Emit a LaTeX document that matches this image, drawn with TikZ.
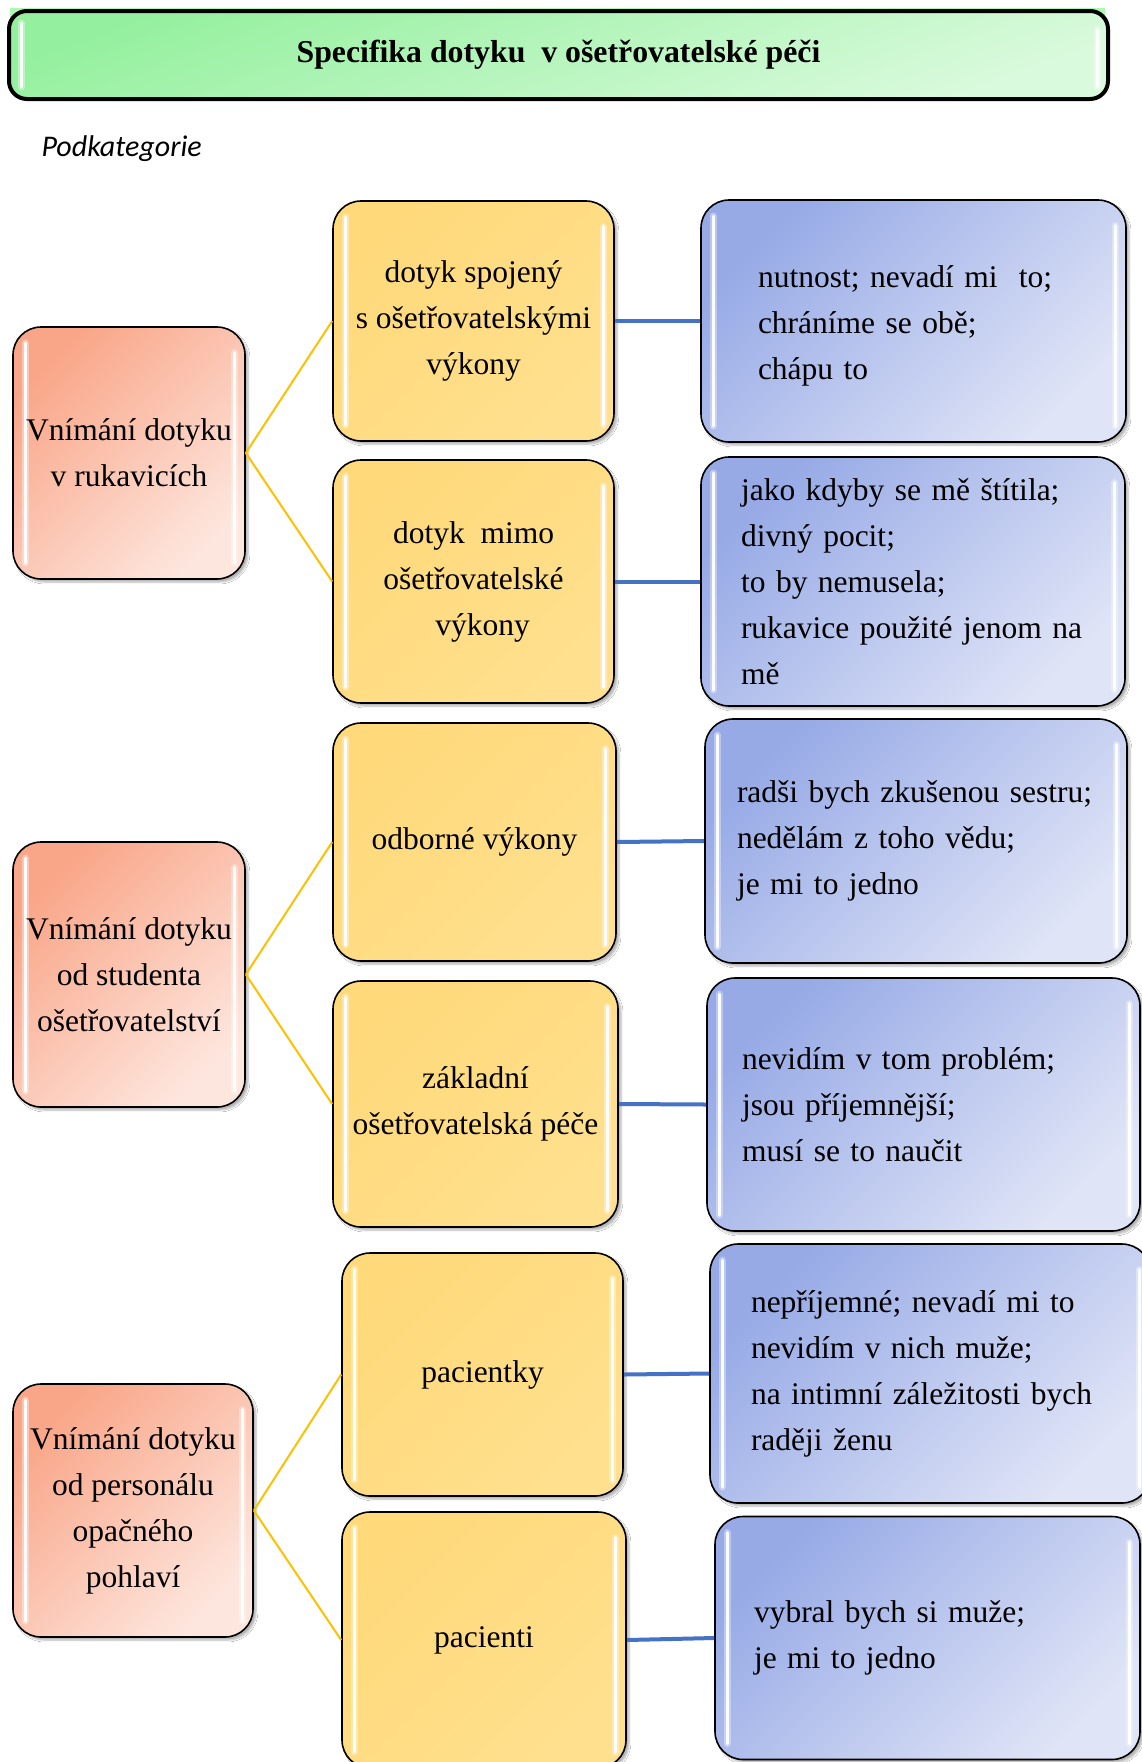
\documentclass[tikz,border=0pt]{standalone}
\usepackage{fontspec}
\setmainfont{Liberation Serif}
\newfontfamily\calibrifont{Carlito}
\usetikzlibrary{shadows.blur}

\definecolor{salmonA}{HTML}{F9A688}
\definecolor{salmonB}{HTML}{FDE6DE}
\definecolor{blueA}{HTML}{97AAE6}
\definecolor{blueB}{HTML}{DFE4F6}
\definecolor{yelA}{HTML}{FFD97A}
\definecolor{yelB}{HTML}{FFE08E}
\definecolor{greenA}{HTML}{94F09E}
\definecolor{greenB}{HTML}{DAFADD}
\definecolor{ylink}{HTML}{FFC000}
\definecolor{blink}{HTML}{4472C4}

\tikzset{
  gloss/.style={path picture={
    \draw[white, line width=7pt, opacity=0.35, line cap=round]
      ([xshift=12pt,yshift=-#1]path picture bounding box.north west) --
      ([xshift=12pt,yshift=#1]path picture bounding box.south west);
    \draw[white, line width=3pt, opacity=0.95, line cap=round]
      ([xshift=12pt,yshift=-#1]path picture bounding box.north west) --
      ([xshift=12pt,yshift=#1]path picture bounding box.south west);
    \draw[white, line width=7pt, opacity=0.35, line cap=round]
      ([xshift=-11pt,yshift=-1.6*#1]path picture bounding box.north east) --
      ([xshift=-11pt,yshift=#1]path picture bounding box.south east);
    \draw[white, line width=3pt, opacity=0.95, line cap=round]
      ([xshift=-11pt,yshift=-1.6*#1]path picture bounding box.north east) --
      ([xshift=-11pt,yshift=#1]path picture bounding box.south east);
  }},
  gloss/.default=16pt,
  box/.style={draw=black, line width=1.6pt, rounded corners=28pt, inner sep=0pt,
    blur shadow={shadow xshift=3pt, shadow yshift=-3pt, shadow blur steps=6, shadow opacity=30},
    font=\fontsize{31.5}{46}\selectfont},
  catbox/.style={box, gloss, top color=salmonA, bottom color=salmonB, shading angle=45, align=center},
  subbox/.style={box, gloss, top color=yelA, bottom color=yelB, shading angle=45, align=center},
  quotebox/.style={box, gloss, top color=blueA, bottom color=blueB, shading angle=45, align=left},
  titlebox/.style={draw=black, line width=4pt, rounded corners=18pt, inner sep=0pt,
    gloss=12pt, top color=greenA, bottom color=greenB, shading angle=20,
    font=\fontsize{31.8}{40}\selectfont\bfseries},
  ylinkline/.style={draw=ylink, line width=2pt},
  blinkline/.style={draw=blink, line width=4pt}
}

\begin{document}
\begin{tikzpicture}[x=1pt, y=-1pt]
\useasboundingbox (0,0) rectangle (1142,1762);
\fill[white] (0,0) rectangle (1142,1762);

% title
\fill[greenA!80!green!60] (10,8) rectangle (1105,20);
\node[titlebox, minimum width=1099pt, minimum height=88pt] (title) at (558.5,55)
  {Specifika dotyku~ v ošetřovatelské péči};

\node[anchor=west, font=\calibrifont\itshape\fontsize{30}{34}\selectfont] (podk) at (38,149) {Podkategorie};

% categories
\node[catbox, minimum width=232pt, minimum height=252pt] (L1) at (129,453)
  {Vnímání dotyku\\v rukavicích};
\node[catbox, minimum width=232pt, minimum height=265pt] (L2) at (129,974.5)
  {Vnímání dotyku\\od studenta\\ošetřovatelství};
\node[catbox, minimum width=240pt, minimum height=253pt] (L3) at (133,1510.5)
  {Vnímání dotyku\\od personálu\\opačného\\pohlaví};

% subcategories
\node[subbox, minimum width=281pt, minimum height=240pt] (Y1) at (473.5,321)
  {dotyk spojený\\s ošetřovatelskými\\výkony};
\node[subbox, minimum width=281pt, minimum height=243pt] (Y2) at (473.5,581.5)
  {dotyk~ mimo\\ošetřovatelské\\\hspace*{18pt}výkony};
\node[subbox, minimum width=283pt, minimum height=238pt] (Y3) at (474.5,842)
  {odborné výkony};
\node[subbox, minimum width=285pt, minimum height=246pt] (Y4) at (475.5,1104)
  {základní\\ošetřovatelská péče};
\node[subbox, minimum width=281pt, minimum height=243pt] (Y5) at (482.5,1374.5)
  {pacientky};
\node[subbox, minimum width=284pt, minimum height=256pt] (Y6) at (484,1640)
  {pacienti};

% statements
\node[quotebox, minimum width=425pt, minimum height=242pt, text width=311pt] (B1) at (913.5,321)
  {\rule{0pt}{31pt}nutnost; nevadí mi~ to;\\chráníme se obě;\\chápu to};
\node[quotebox, minimum width=424pt, minimum height=249pt, text width=344pt] (B2) at (913,581.5)
  {jako kdyby se mě štítila;\\divný pocit;\\to by nemusela;\\rukavice použité jenom na\\mě};
\node[quotebox, minimum width=422pt, minimum height=244pt, text width=358pt] (B3) at (916,841)
  {radši bych zkušenou sestru;\\nedělám z toho vědu;\\je mi to jedno};
\node[quotebox, minimum width=433pt, minimum height=253pt, text width=363pt] (B4) at (923.5,1104.5)
  {nevidím v tom problém;\\jsou příjemnější;\\musí se to naučit};
\node[quotebox, minimum width=440pt, minimum height=259pt, text width=358pt] (B5) at (930,1373.5)
  {nepříjemné; nevadí mi to\\nevidím v nich muže;\\na intimní záležitosti bych\\raději ženu};
\node[quotebox, minimum width=425pt, minimum height=243pt, text width=347pt] (B6) at (927.5,1638)
  {vybral bych si muže;\\je mi to jedno};

% connectors
\draw[ylinkline] (L1.east) -- (Y1.west);
\draw[ylinkline] (L1.east) -- (Y2.west);
\draw[ylinkline] (L2.east) -- (Y3.west);
\draw[ylinkline] (L2.east) -- (Y4.west);
\draw[ylinkline] (L3.east) -- (Y5.west);
\draw[ylinkline] (L3.east) -- (Y6.west);
\draw[blinkline] (Y1.east) -- (B1.west);
\draw[blinkline] (Y2.east) -- (B2.west);
\draw[blinkline] (Y3.east) -- (B3.west);
\draw[blinkline] (Y4.east) -- (B4.west);
\draw[blinkline] (Y5.east) -- (B5.west);
\draw[blinkline] (Y6.east) -- (B6.west);
\end{tikzpicture}
\end{document}
